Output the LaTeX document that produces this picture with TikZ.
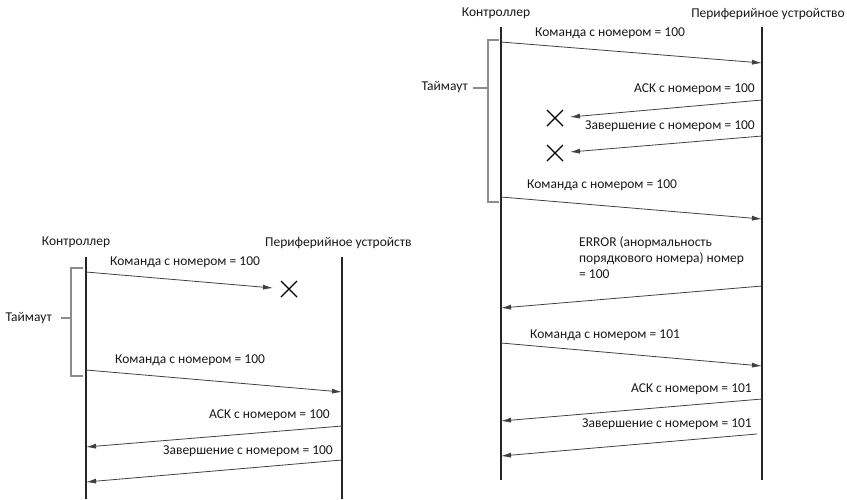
\documentclass[tikz,border=0pt]{standalone}
\usepackage{fontspec}
\setmainfont{Carlito}
\usetikzlibrary{arrows.meta}
\begin{document}
\begin{tikzpicture}[x=1pt,y=-1pt,
  every node/.style={font=\fontsize{13.5}{16}\selectfont, text=black!90, inner sep=0pt},
  lifeline/.style={line width=2pt, black!85},
  msg/.style={line width=0.8pt, black!75, -{Latex[length=10pt,width=5pt]}},
  bracketline/.style={line width=2pt, black!45},
  crossmark/.style={line width=1.4pt, black},
  lbl/.style={anchor=west},
  rlbl/.style={anchor=east}]
\useasboundingbox (0,0) rectangle (847,499);

% ---------------- Left diagram ----------------
\node (lc) at (76,242) {Контроллер};
\begin{scope}
\clip (250,230) rectangle (411,256);
\node (lp) at (265,243) [anchor=west] {Периферийное устройство};
\end{scope}
\coordinate (la1) at (86,257); \coordinate (la2) at (86,499);
\coordinate (lb1) at (342,257); \coordinate (lb2) at (342,499);
\draw[lifeline] (la1) -- (la2);
\draw[lifeline] (lb1) -- (lb2);

% bracket
\coordinate (lbt) at (83,268); \coordinate (lbtc) at (71,268);
\coordinate (lbb) at (83,376); \coordinate (lbbc) at (71,376);
\coordinate (lbm) at (71,318); \coordinate (lbmt) at (61,318);
\draw[bracketline] (lbt) -- (lbtc) -- (lbbc) -- (lbb);
\draw[bracketline] (lbm) -- (lbmt);
\node (lt) [anchor=east] at (52,318) {Таймаут};

% messages
\coordinate (lm1s) at (86,272); \coordinate (lm1e) at (273,288);
\draw[msg] (lm1s) -- (lm1e);
\node (ll1) [lbl] at (110,262) {Команда с номером = 100};
\coordinate (lx1) at (289,289);
\draw[crossmark] ([shift={(-8,-8)}]lx1) -- ([shift={(8,8)}]lx1);
\draw[crossmark] ([shift={(-8,8)}]lx1) -- ([shift={(8,-8)}]lx1);

\coordinate (lm2s) at (86,370); \coordinate (lm2e) at (342,392);
\draw[msg] (lm2s) -- (lm2e);
\node (ll2) [lbl] at (115,360) {Команда с номером = 100};

\coordinate (lm3s) at (342,426); \coordinate (lm3e) at (86,447);
\draw[msg] (lm3s) -- (lm3e);
\node (ll3) [rlbl] at (330,415) {ACK с номером = 100};

\coordinate (lm4s) at (342,460); \coordinate (lm4e) at (86,482);
\draw[msg] (lm4s) -- (lm4e);
\node (ll4) [rlbl] at (333,451) {Завершение с номером = 100};

% ---------------- Right diagram ----------------
\node (rc) at (496,13) {Контроллер};
\node (rp) at (768,14) {Периферийное устройство};
\coordinate (ra1) at (501,27); \coordinate (ra2) at (501,480);
\coordinate (rb1) at (762,27); \coordinate (rb2) at (762,480);
\draw[lifeline] (ra1) -- (ra2);
\draw[lifeline] (rb1) -- (rb2);

% bracket
\coordinate (rbt) at (499,40); \coordinate (rbtc) at (488,40);
\coordinate (rbb) at (499,202); \coordinate (rbbc) at (488,202);
\coordinate (rbm) at (488,88); \coordinate (rbmt) at (473,88);
\draw[bracketline] (rbt) -- (rbtc) -- (rbbc) -- (rbb);
\draw[bracketline] (rbm) -- (rbmt);
\node (rt) [anchor=east] at (468,87) {Таймаут};

% messages
\coordinate (rm1s) at (501,42); \coordinate (rm1e) at (762,63);
\draw[msg] (rm1s) -- (rm1e);
\node (rl1) [lbl] at (535,33) {Команда с номером = 100};

\coordinate (rm2s) at (762,100); \coordinate (rm2e) at (570,117);
\draw[msg] (rm2s) -- (rm2e);
\node (rl2) [rlbl] at (755,89) {ACK с номером = 100};
\coordinate (rx1) at (555,118);
\draw[crossmark] ([shift={(-8,-8)}]rx1) -- ([shift={(8,8)}]rx1);
\draw[crossmark] ([shift={(-8,8)}]rx1) -- ([shift={(8,-8)}]rx1);

\coordinate (rm3s) at (762,136); \coordinate (rm3e) at (570,152);
\draw[msg] (rm3s) -- (rm3e);
\node (rl3) [rlbl] at (755,126) {Завершение с номером = 100};
\coordinate (rx2) at (555,153);
\draw[crossmark] ([shift={(-8,-8)}]rx2) -- ([shift={(8,8)}]rx2);
\draw[crossmark] ([shift={(-8,8)}]rx2) -- ([shift={(8,-8)}]rx2);

\coordinate (rm4s) at (501,197); \coordinate (rm4e) at (762,219);
\draw[msg] (rm4s) -- (rm4e);
\node (rl4) [lbl] at (527,185) {Команда с номером = 100};

\coordinate (rm5s) at (762,286); \coordinate (rm5e) at (501,308);
\draw[msg] (rm5s) -- (rm5e);
\node (rl5) [anchor=north west, align=left] at (579,236) {ERROR (анормальность\\порядкового номера) номер\\= 100};

\coordinate (rm6s) at (501,343); \coordinate (rm6e) at (762,366);
\draw[msg] (rm6s) -- (rm6e);
\node (rl6) [lbl] at (530,335) {Команда с номером = 101};

\coordinate (rm7s) at (762,399); \coordinate (rm7e) at (501,421);
\draw[msg] (rm7s) -- (rm7e);
\node (rl7) [rlbl] at (752,389) {ACK с номером = 101};

\coordinate (rm8s) at (757,434); \coordinate (rm8e) at (501,456);
\draw[msg] (rm8s) -- (rm8e);
\node (rl8) [rlbl] at (752,424) {Завершение с номером = 101};
\end{tikzpicture}
\end{document}
